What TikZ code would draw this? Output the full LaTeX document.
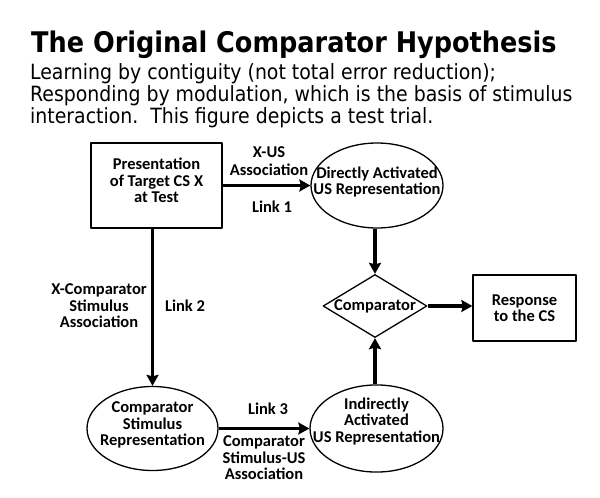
\documentclass[tikz,border=0pt]{standalone}
\usepackage{fontspec}
\setmainfont{Carlito}
\newfontfamily\headfont{DejaVu Sans Condensed}
\usetikzlibrary{shapes.geometric,arrows.meta}
\begin{document}
\begin{tikzpicture}[x=1pt, y=-1pt, line join=round,
	>={Stealth[length=11pt,width=12pt,inset=1.5pt]},
	font=\fontsize{16.5}{16.5}\selectfont\bfseries,
	link/.style={->, line width=3.8pt},
	shapebox/.style={draw, line width=1.3pt, inner sep=0pt, align=center},
	oval/.style={shapebox, ellipse, inner xsep=-22pt, minimum height=84},
	lbl/.style={align=center, inner sep=0pt}]
	\useasboundingbox (0,0) rectangle (600,498);
	\node[anchor=base west, inner sep=0pt, 
	font=\headfont\bfseries\fontsize{28.4}{28}\selectfont] (title) at (31,52)
	{The Original Comparator Hypothesis};
	\foreach \t [count=\i] in 
	{{Learning by contiguity (not total error reduction);},
	{Responding by modulation, which is the basis of stimulus},
	{interaction.\ \ This figure depicts a test trial.}}
	\node[anchor=base west, inner sep=0pt, 
	font=\headfont\fontsize{21}{22}\selectfont] (intro\i) at (30,{57+22*\i}) {\t};
	\node[shapebox, rectangle, minimum width=131, minimum height=85, text depth=10pt] 
	(present) at (156.5,185.5) {Presentation\\of Target CS X\\at Test};
	\node[oval, minimum width=132, minimum height=85, text depth=10pt] 
	(direct) at (377,185.5) {Directly Activated\\US Representation};
	\node[shapebox, diamond, aspect=1.65, minimum width=102, minimum height=62] 
	(comp) at (375,306) {Comparator};
	\node[shapebox, rectangle, minimum width=103, minimum height=66] 
	(resp) at (524.5,308) {Response\\to the CS};
	\node[oval, minimum width=131, text depth=9pt] 
	(csrep) at (152.5,428.5) {Comparator\\Stimulus\\Representation};
	\node[oval, minimum width=133, text depth=17pt] 
	(indir) at (376.5,428.5) {Indirectly\\Activated\\US Representation};
	\draw[link] (present) -- (direct);
	\draw[link] (csrep.north |- present.south) -- (csrep.north);
	\draw[link] (comp.north |- direct.south) -- (comp.north);
	\draw[link] (comp.east) -- (comp.east -| resp.west);
	\draw[link] (comp.south |- indir.north) -- (comp.south);
	\draw[link] (csrep) -- (indir);
	\node[lbl] (xus) at (269,161) {X-US\\[1.5pt]Association};
	\node[lbl] (link1) at (272,207) {Link 1};
	\node[lbl] (xcomp) at (99,306) {X-Comparator\\Stimulus\\Association};
	\node[lbl] (link2) at (185,306) {Link 2};
	\node[lbl] (link3) at (268,409) {Link 3};
	\node[lbl] (csus) at (264,458) {Comparator\\Stimulus-US\\Association};
\end{tikzpicture}
\end{document}
